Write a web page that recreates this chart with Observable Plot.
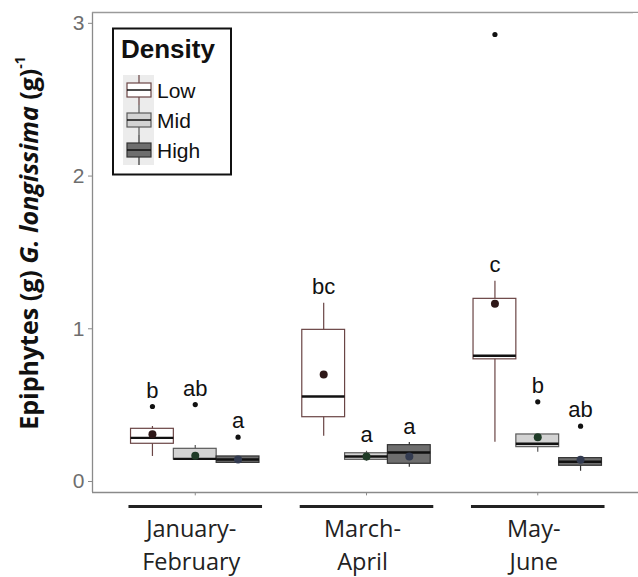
<!DOCTYPE html>
<html>
<head>
<meta charset="utf-8">
<script src="https://cdn.jsdelivr.net/npm/d3@7"></script>
<script src="https://cdn.jsdelivr.net/npm/@observablehq/plot@0.6"></script>
<style>
  html, body { margin: 0; padding: 0; background: #fff; overflow: hidden; }
  #chart svg { display: block; overflow: hidden; }
</style>
</head>
<body>
<div id="chart"></div>
<script>
// ---- data ----
const periods = ["January-February", "March-April", "May-June"];
const periodLabels = ["January-\nFebruary", "March-\nApril", "May-\nJune"];
const densities = ["Low", "Mid", "High"];
// order: period-major, then Low / Mid / High
const q1          = [0.247, 0.144, 0.122,  0.421, 0.142, 0.116,  0.800, 0.225, 0.103];
const medians     = [0.286, 0.148, 0.144,  0.557, 0.164, 0.190,  0.823, 0.247, 0.129];
const q3          = [0.345, 0.214, 0.164,  0.993, 0.185, 0.238,  1.196, 0.308, 0.153];
const whiskerLow  = [0.164, 0.144, 0.122,  0.297, 0.133, 0.094,  0.257, 0.192, 0.067];
const whiskerHigh = [0.360, 0.236, 0.164,  1.168, 0.198, 0.255,  1.312, 0.308, 0.153];
const means       = [0.310, 0.168, 0.144,  0.700, 0.164, 0.164,  1.164, 0.290, 0.142];
const outliers    = [[0.491], [0.504], [0.290], [], [], [], [2.927], [0.522], [0.362]];
const letters     = ["b", "ab", "a", "bc", "a", "a", "c", "b", "ab"];
const yTicks = [0, 1, 2, 3];

// ---- styles ----
const fillColor   = {Low: "#ffffff", Mid: "#d3d3d3", High: "#6e6e6e"};
const strokeColor = {Low: "#6a4545", Mid: "#5a5a5a", High: "#333333"};
const meanColor   = {Low: "#2e1818", Mid: "#1f3b27", High: "#333b50"};

const yMin = -0.072, yMax = 3.071;
const boxW = 0.25;
const rows = [];
periods.forEach((p, pi) => densities.forEach((d, di) => {
  const k = pi * 3 + di;
  const xc = pi + 1 + (di - 1) * boxW;
  // letters sit above the whisker, or above a nearby outlier
  const near = outliers[k].filter(v => v - whiskerHigh[k] < 0.5);
  rows.push({
    period: p, density: d, xc, x1: xc - boxW / 2, x2: xc + boxW / 2,
    q1: q1[k], med: medians[k], q3: q3[k], lo: whiskerLow[k], hi: whiskerHigh[k],
    mean: means[k], letter: letters[k],
    top: Math.max(whiskerHigh[k], ...near)
  });
}));
const outRows = [];
rows.forEach((r, k) => outliers[k].forEach(v => outRows.push({xc: r.xc, v})));
const periodRows = periods.map((p, i) => ({p, i: i + 1, label: periodLabels[i]}));

const W = 638, H = 577;
const chart = Plot.plot({
  width: W, height: H,
  marginLeft: 92, marginRight: 0, marginTop: 12, marginBottom: 85,
  style: {fontFamily: "Liberation Sans, Arial, sans-serif", background: "#fff", overflow: "hidden"},
  x: {type: "linear", domain: [0.4, 3.6], range: [92, 640], axis: null},
  y: {type: "linear", domain: [yMin, yMax], axis: null},
  marks: [
    // panel lines
    Plot.ruleX([0.4], {y1: yMin, y2: yMax, stroke: "#8a8a8a", strokeWidth: 1.3}),
    Plot.ruleY([yMin], {x1: 0.4, x2: 3.6, stroke: "#8a8a8a", strokeWidth: 1.3}),
    Plot.ruleY([yMax], {x1: 0.4, x2: 3.6, stroke: "#9a9a9a", strokeWidth: 1.3}),
    // y axis ticks and labels
    Plot.axisY({
      ticks: yTicks, tickSize: 4, tickPadding: 4, stroke: "#8a8a8a",
      fill: "#6e6e6e", fontSize: 21, label: null, tickFormat: d3.format("d")
    }),
    // x axis ticks
    Plot.ruleX(periodRows, {x: "i", y1: yMin, y2: yMin - 0.022, stroke: "#8a8a8a", strokeWidth: 1}),
    // underline bars
    Plot.link(periodRows, {
      x1: d => d.i - 0.39, x2: d => d.i + 0.39, y1: yMin, y2: yMin,
      dy: 14, stroke: "#222", strokeWidth: 3.2
    }),
    // category labels
    Plot.text(periodRows, {
      x: "i", text: "label", frameAnchor: "bottom", lineAnchor: "top",
      dy: 21, dx: -4, fontSize: 23.5, lineHeight: 1.4, fill: "#222",
      fontFamily: "Open Sans, sans-serif"
    }),
    // whiskers
    Plot.ruleX(rows, {x: "xc", y1: "lo", y2: "hi", stroke: d => strokeColor[d.density], strokeWidth: 1.2}),
    // boxes
    Plot.rect(rows, {
      x1: "x1", x2: "x2", y1: "q1", y2: "q3",
      fill: d => fillColor[d.density], stroke: d => strokeColor[d.density], strokeWidth: 1.2
    }),
    // medians
    Plot.ruleY(rows, {x1: "x1", x2: "x2", y: "med", stroke: "#111", strokeWidth: 2.4}),
    // means
    Plot.dot(rows, {x: "xc", y: "mean", r: 4, fill: d => meanColor[d.density], stroke: "none"}),
    // outliers
    Plot.dot(outRows, {x: "xc", y: "v", r: 2.6, fill: "#111", stroke: "none"}),
    // significance letters
    Plot.text(rows, {
      x: "xc", y: "top", text: "letter", dy: -16, lineAnchor: "middle",
      fontSize: 22, fill: "#111"
    })
  ]
});
document.getElementById("chart").appendChild(chart);

// ---- y axis title with mixed styling ----
const svg = d3.select(chart);
const yl = svg.append("text")
  .attr("transform", "translate(31,243) rotate(-90)")
  .attr("text-anchor", "middle")
  .attr("dominant-baseline", "middle")
  .attr("font-family", "Open Sans, sans-serif")
  .attr("font-weight", "bold")
  .attr("font-size", 25)
  .attr("fill", "#111");
yl.append("tspan").text("Epiphytes (g) ");
yl.append("tspan").attr("font-style", "italic").text("G. longissima");
yl.append("tspan").text(" (g)");
yl.append("tspan").attr("font-size", 14).attr("dy", -10).text("-1");

// ---- legend ----
const lg = svg.append("g").attr("text-anchor", "start");
lg.append("rect").attr("x", 113).attr("y", 28.5).attr("width", 118).attr("height", 146)
  .attr("fill", "#fff").attr("stroke", "#111").attr("stroke-width", 2);
lg.append("text").attr("x", 121).attr("y", 58).attr("text-anchor", "start")
  .attr("font-family", "Liberation Sans, Arial, sans-serif")
  .attr("font-weight", "bold").attr("font-size", 26).attr("fill", "#111").text("Density");
densities.forEach((d, i) => {
  const cy = 90 + i * 30;
  const g = lg.append("g");
  g.append("rect").attr("x", 123).attr("y", cy - 15).attr("width", 31).attr("height", 30).attr("fill", "#ececec");
  g.append("line").attr("x1", 139).attr("x2", 139).attr("y1", cy - 15).attr("y2", cy + 15)
    .attr("stroke", strokeColor[d]).attr("stroke-width", 1.2);
  g.append("rect").attr("x", 127).attr("y", cy - 7).attr("width", 24).attr("height", 14)
    .attr("fill", fillColor[d]).attr("stroke", strokeColor[d]).attr("stroke-width", 1.2);
  g.append("line").attr("x1", 127).attr("x2", 151).attr("y1", cy).attr("y2", cy)
    .attr("stroke", "#111").attr("stroke-width", 1.5);
  lg.append("text").attr("x", 157).attr("y", cy + 7.5).attr("text-anchor", "start")
    .attr("font-family", "Liberation Sans, Arial, sans-serif")
    .attr("font-size", 21).attr("fill", "#111").text(d);
});

// the reference panel runs past the right edge: keep that edge open
svg.append("rect").attr("x", 633).attr("y", 13).attr("width", 6).attr("height", 478).attr("fill", "#fff");
</script>
</body>
</html>
